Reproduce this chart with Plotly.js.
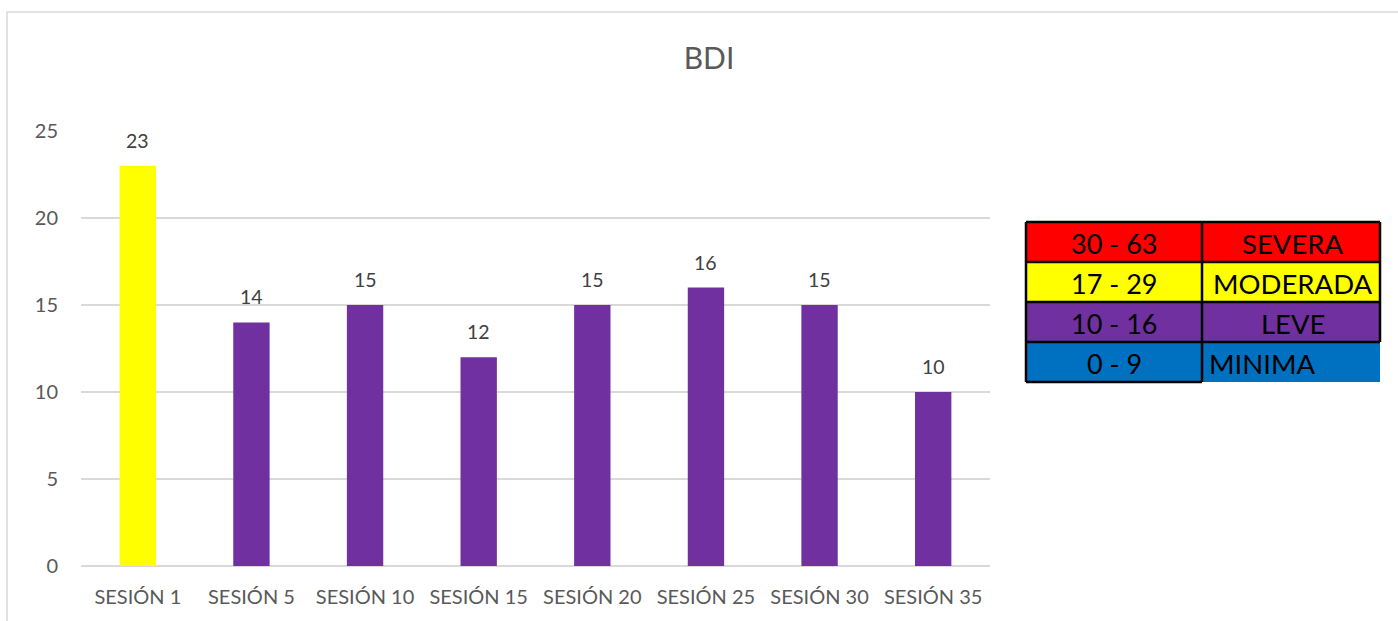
<!DOCTYPE html>
<html>
<head>
<meta charset="utf-8">
<script src="https://cdn.plot.ly/plotly-3.0.1.min.js"></script>
<style>
html,body{margin:0;padding:0;background:#fff;}
#chart{width:1398px;height:621px;}
</style>
</head>
<body>
<div id="chart"></div>
<script>
// ---- data ----
const sessions = ["SESIÓN 1","SESIÓN 5","SESIÓN 10","SESIÓN 15","SESIÓN 20","SESIÓN 25","SESIÓN 30","SESIÓN 35"];
const bdiScores = [23, 14, 15, 12, 15, 16, 15, 10];
const barColors = ["#FFFF00","#7030A0","#7030A0","#7030A0","#7030A0","#7030A0","#7030A0","#7030A0"];
const yTicks = [0, 5, 10, 15, 20, 25];
const legendRanges = ["30 - 63", "17 - 29", "10 - 16", "0 - 9"];
const legendLabels = ["SEVERA", "MODERADA", "LEVE", "MINIMA"];
const legendColors = ["#FF0000", "#FFFF00", "#7030A0", "#0070C0"];

// ---- layout geometry (pixels) ----
const W = 1398, H = 621;
const mL = 81, mR = W - 990, mT = 131, mB = H - 566;
const pw = W - mL - mR, ph = H - mT - mB;
const px = x => (x - mL) / pw;
const py = y => (H - mB - y) / ph;

const FONT = "Lato, 'Open Sans', sans-serif";

const shapes = [];
const annotations = [];

// outer chart border
shapes.push({type:"rect", xref:"paper", yref:"paper",
  x0:px(7), x1:px(1420), y0:py(640), y1:py(12),
  line:{color:"#D9D9D9", width:1.5}, fillcolor:"rgba(0,0,0,0)", layer:"below"});

// legend table
const tX0 = 1026, tX1 = 1202, tX2 = 1380;
const rowTops = [222, 262, 302, 342];
const rowH = 40;
legendColors.forEach((c, i) => {
  const y0 = rowTops[i], y1 = rowTops[i] + rowH;
  shapes.push({type:"rect", xref:"paper", yref:"paper",
    x0:px(tX0), x1:px(tX2), y0:py(y1), y1:py(y0),
    fillcolor:c, line:{width:0}});
});
// black borders
const bl = {color:"#000000", width:2.5};
shapes.push({type:"line", xref:"paper", yref:"paper", x0:px(tX0), x1:px(tX0), y0:py(382), y1:py(222), line:bl});
shapes.push({type:"line", xref:"paper", yref:"paper", x0:px(tX0), x1:px(tX2), y0:py(222), y1:py(222), line:bl});
shapes.push({type:"line", xref:"paper", yref:"paper", x0:px(tX2), x1:px(tX2), y0:py(342), y1:py(222), line:bl});
shapes.push({type:"line", xref:"paper", yref:"paper", x0:px(tX1), x1:px(tX1), y0:py(382), y1:py(222), line:bl});
[262, 302, 342].forEach(y => shapes.push({type:"line", xref:"paper", yref:"paper", x0:px(tX0), x1:px(tX2), y0:py(y), y1:py(y), line:bl}));
shapes.push({type:"line", xref:"paper", yref:"paper", x0:px(tX0), x1:px(tX1), y0:py(382), y1:py(382), line:bl});

legendRanges.forEach((t, i) => {
  const yc = rowTops[i] + rowH / 2 + 1;
  annotations.push({xref:"paper", yref:"paper", x:px((tX0 + tX1) / 2), y:py(yc),
    text:t, showarrow:false, xanchor:"center", yanchor:"middle",
    font:{family:FONT, size:27, color:"#000"}});
  const isLast = i === legendLabels.length - 1;
  annotations.push({xref:"paper", yref:"paper",
    x: isLast ? px(tX1 + 5) : px((tX1 + tX2) / 2 + 2), y:py(yc),
    text:legendLabels[i], showarrow:false, xanchor: isLast ? "left" : "center", yanchor:"middle",
    font:{family:FONT, size:27.5, color:"#000"}});
});

// data labels above bars
sessions.forEach((s, i) => {
  annotations.push({x:s, y:bdiScores[i], xref:"x", yref:"y", text:String(bdiScores[i]),
    showarrow:false, yanchor:"bottom", yshift:12,
    font:{family:FONT, size:19.5, color:"#404040"}});
});

const trace = {
  type:"bar", x:sessions, y:bdiScores,
  marker:{color:barColors, line:{width:0}},
  hoverinfo:"x+y"
};

const layout = {
  width:W, height:H,
  margin:{l:mL, r:mR, t:mT, b:mB, pad:0},
  paper_bgcolor:"#fff", plot_bgcolor:"#fff",
  showlegend:false,
  bargap:0.68,
  title:{text:"BDI", x:709/W, xref:"container", xanchor:"center",
    y:1 - 58/H, yref:"container", yanchor:"middle",
    font:{family:FONT, size:30, color:"#595959"}},
  xaxis:{type:"category", showgrid:false, zeroline:false, showline:false,
    ticks:"", tickfont:{family:FONT, size:20, color:"#595959"}, ticklabelstandoff:17,
    automargin:false},
  yaxis:{range:[0,25], tickvals:yTicks, ticktext:yTicks.map(String),
    showgrid:true, gridcolor:"#D9D9D9", gridwidth:1.5, zeroline:true, zerolinecolor:"#D9D9D9", zerolinewidth:1.5,
    showline:false, ticks:"", tickfont:{family:FONT, size:20, color:"#595959"}, ticklabelstandoff:22,
    automargin:false, fixedrange:true},
  shapes:shapes,
  annotations:annotations
};

Plotly.newPlot("chart", [trace], layout, {displayModeBar:false, staticPlot:true});
</script>
</body>
</html>
